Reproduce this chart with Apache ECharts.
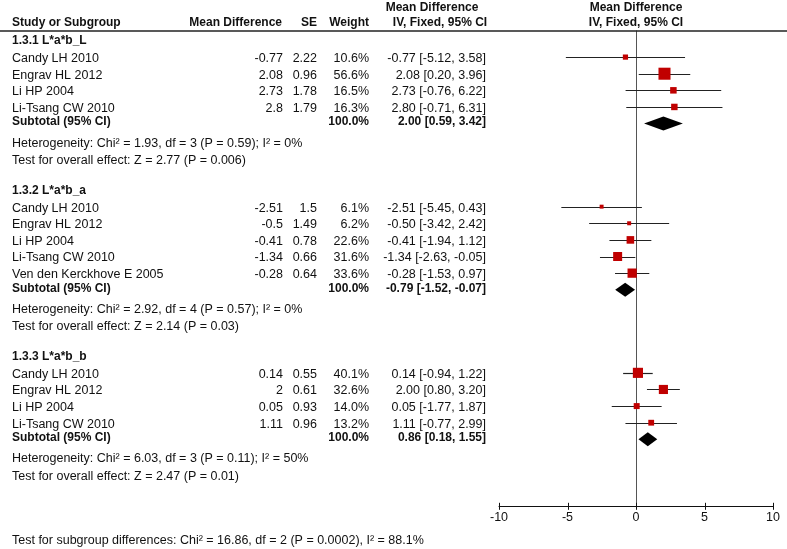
<!DOCTYPE html>
<html><head><meta charset="utf-8">
<script src="https://cdn.jsdelivr.net/npm/echarts/dist/echarts.min.js"></script>
<style>html,body{margin:0;padding:0;background:#fff}#c{width:787px;height:549px}</style>
</head><body><div id="c"></div><script>
// ---------------- data ----------------
const groupTitles = ['1.3.1 L*a*b_L', '1.3.2 L*a*b_a', '1.3.3 L*a*b_b'];
const studyNames = [
  ['Candy LH 2010', 'Engrav HL 2012', 'Li HP 2004', 'Li-Tsang CW 2010'],
  ['Candy LH 2010', 'Engrav HL 2012', 'Li HP 2004', 'Li-Tsang CW 2010', 'Ven den Kerckhove E 2005'],
  ['Candy LH 2010', 'Engrav HL 2012', 'Li HP 2004', 'Li-Tsang CW 2010']
];
const meanDiff = [[-0.77, 2.08, 2.73, 2.8], [-2.51, -0.5, -0.41, -1.34, -0.28], [0.14, 2, 0.05, 1.11]];
const stdErr = [[2.22, 0.96, 1.78, 1.79], [1.5, 1.49, 0.78, 0.66, 0.64], [0.55, 0.61, 0.93, 0.96]];
const weightPct = [[10.6, 56.6, 16.5, 16.3], [6.1, 6.2, 22.6, 31.6, 33.6], [40.1, 32.6, 14.0, 13.2]];
const ciLow = [[-5.12, 0.20, -0.76, -0.71], [-5.45, -3.42, -1.94, -2.63, -1.53], [-0.94, 0.80, -1.77, -0.77]];
const ciHigh = [[3.58, 3.96, 6.22, 6.31], [0.43, 2.42, 1.12, -0.05, 0.97], [1.22, 3.20, 1.87, 2.99]];
const subtotalEst = [2.00, -0.79, 0.86];
const subtotalLow = [0.59, -1.52, 0.18];
const subtotalHigh = [3.42, -0.07, 1.55];
const subtotalWeight = [100.0, 100.0, 100.0];
const heterogeneity = [
  'Heterogeneity: Chi² = 1.93, df = 3 (P = 0.59); I² = 0%',
  'Heterogeneity: Chi² = 2.92, df = 4 (P = 0.57); I² = 0%',
  'Heterogeneity: Chi² = 6.03, df = 3 (P = 0.11); I² = 50%'
];
const overallEffect = [
  'Test for overall effect: Z = 2.77 (P = 0.006)',
  'Test for overall effect: Z = 2.14 (P = 0.03)',
  'Test for overall effect: Z = 2.47 (P = 0.01)'
];
const subgroupTest = 'Test for subgroup differences: Chi² = 16.86, df = 2 (P = 0.0002), I² = 88.1%';
const xTicks = [-10, -5, 0, 5, 10];

// ---------------- layout ----------------
const W = 787, H = 549;
const Y_MIN = -0.6, Y_MAX = 28;
const GRID_TOP = 30.5, GRID_BOTTOM = 43.2;
const FONT = "'Liberation Sans', Arial, sans-serif";
const FS = 12.5, FSB = 12;
const COL = { name: 12, md: 283, se: 317, wt: 369, ci: 486 };

const rows = [];
let r = 0;
groupTitles.forEach((t, g) => {
  rows.push({ kind: 'title', g, r: r++ });
  studyNames[g].forEach((n, i) => rows.push({ kind: 'study', g, i, r: r++ }));
  rows.push({ kind: 'subtotal', g, r: r++ });
  rows.push({ kind: 'het', g, r: r++ });
  rows.push({ kind: 'test', g, r: r++ });
  r++;
});

const texts = []; // [x, row, text, align, bold, dy]
function T(x, row, s, align, bold, dy) { texts.push([x, row, s, align || 'left', !!bold, dy || 0]); }
T(12, -1.07, 'Study or Subgroup', 'left', true);
T(COL.md - 1, -1.07, 'Mean Difference', 'right', true);
T(COL.se, -1.07, 'SE', 'right', true);
T(COL.wt, -1.07, 'Weight', 'right', true);
T(432, -2.0, 'Mean Difference', 'center', true);
T(440, -1.07, 'IV, Fixed, 95% CI', 'center', true);
T(636, -2.0, 'Mean Difference', 'center', true);
T(636, -1.07, 'IV, Fixed, 95% CI', 'center', true);
const f2 = v => v.toFixed(2);
rows.forEach(o => {
  const g = o.g;
  if (o.kind === 'title') T(COL.name, o.r, groupTitles[g], 'left', true, 0.5);
  else if (o.kind === 'study') {
    const i = o.i;
    T(COL.name, o.r, studyNames[g][i], 'left', false, 1.5);
    T(COL.md, o.r, String(meanDiff[g][i]), 'right', false, 1.5);
    T(COL.se, o.r, String(stdErr[g][i]), 'right', false, 1.5);
    T(COL.wt, o.r, weightPct[g][i].toFixed(1) + '%', 'right', false, 1.5);
    T(COL.ci, o.r, f2(meanDiff[g][i]) + ' [' + f2(ciLow[g][i]) + ', ' + f2(ciHigh[g][i]) + ']', 'right', false, 1.5);
  } else if (o.kind === 'subtotal') {
    T(COL.name, o.r, 'Subtotal (95% CI)', 'left', true, -1.5);
    T(COL.wt, o.r, subtotalWeight[g].toFixed(1) + '%', 'right', true, -1.5);
    T(COL.ci, o.r, f2(subtotalEst[g]) + ' [' + f2(subtotalLow[g]) + ', ' + f2(subtotalHigh[g]) + ']', 'right', true, -1.5);
  } else if (o.kind === 'het') T(COL.name, o.r, heterogeneity[g], 'left', false, 3);
  else if (o.kind === 'test') T(COL.name, o.r, overallEffect[g], 'left', false, 4);
});
T(COL.name, 30.1, subgroupTest, 'left', false);

const studyPts = [], ciPts = [], diamondPts = [];
rows.forEach(o => {
  if (o.kind === 'study') {
    studyPts.push([meanDiff[o.g][o.i], o.r, weightPct[o.g][o.i]]);
    ciPts.push([ciLow[o.g][o.i], ciHigh[o.g][o.i], o.r]);
  } else if (o.kind === 'subtotal') {
    diamondPts.push([subtotalEst[o.g], subtotalLow[o.g], subtotalHigh[o.g], o.r]);
  }
});

const chart = echarts.init(document.getElementById('c'), null, { renderer: 'canvas' });
chart.setOption({
  animation: false,
  backgroundColor: '#fff',
  grid: [
    { left: 499, right: W - 773, top: GRID_TOP, bottom: GRID_BOTTOM },
    { left: 0, right: 0, top: GRID_TOP, bottom: GRID_BOTTOM }
  ],
  xAxis: [
    { gridIndex: 0, type: 'value', min: -10, max: 10, interval: 5, position: 'bottom',
      axisLine: { show: true, onZero: false, lineStyle: { color: '#111', width: 1 } },
      axisTick: { show: false },
      axisLabel: { show: true, color: '#111', fontSize: 12.5, fontFamily: FONT, margin: 5,
        formatter: v => xTicks.includes(v) ? String(v) : '' },
      splitLine: { show: false } },
    { gridIndex: 1, type: 'value', min: 0, max: W, show: false }
  ],
  yAxis: [
    { gridIndex: 0, type: 'value', min: Y_MIN, max: Y_MAX, inverse: true, show: false },
    { gridIndex: 1, type: 'value', min: Y_MIN, max: Y_MAX, inverse: true, show: false }
  ],
  graphic: [
    { type: 'line', shape: { x1: 0, y1: 31, x2: W, y2: 31 }, style: { stroke: '#222', lineWidth: 1.5 }, z: 10 }
  ],
  series: [
    { type: 'custom', xAxisIndex: 0, yAxisIndex: 0, data: [[0]], z: 2, clip: false,
      renderItem: (p, api) => {
        const a = api.coord([api.value(0), Y_MIN]), b = api.coord([api.value(0), Y_MAX]);
        return { type: 'line', shape: { x1: Math.round(a[0]) + 0.5, y1: a[1], x2: Math.round(b[0]) + 0.5, y2: b[1] },
          style: { stroke: '#555', lineWidth: 1 } };
      } },
    { type: 'custom', xAxisIndex: 0, yAxisIndex: 0, data: xTicks.map(v => [v]), z: 3, clip: false,
      renderItem: (p, api) => {
        const c = api.coord([api.value(0), Y_MAX]);
        const x = Math.round(c[0]) + 0.5;
        return { type: 'line', shape: { x1: x, y1: c[1] - 3, x2: x, y2: c[1] + 4 }, style: { stroke: '#111', lineWidth: 1 } };
      } },
    { type: 'custom', xAxisIndex: 0, yAxisIndex: 0, data: ciPts, z: 3,
      renderItem: (p, api) => {
        const a = api.coord([api.value(0), api.value(2)]), b = api.coord([api.value(1), api.value(2)]);
        const y = Math.round(a[1]) + 0.5;
        return { type: 'line', shape: { x1: a[0], y1: y, x2: b[0], y2: y }, style: { stroke: '#222', lineWidth: 1.2 } };
      } },
    { type: 'custom', xAxisIndex: 0, yAxisIndex: 0, data: studyPts, z: 4,
      renderItem: (p, api) => {
        const c = api.coord([api.value(0), api.value(1)]);
        const s = Math.max(3.5, 1.6 * Math.sqrt(api.value(2)));
        return { type: 'rect', shape: { x: c[0] - s / 2, y: c[1] - s / 2, width: s, height: s }, style: { fill: '#C00000' } };
      } },
    { type: 'custom', xAxisIndex: 0, yAxisIndex: 0, data: diamondPts, z: 4,
      renderItem: (p, api) => {
        const row = api.value(3);
        const e = api.coord([api.value(0), row]), lo = api.coord([api.value(1), row]), hi = api.coord([api.value(2), row]);
        const h = 7;
        return { type: 'polygon', shape: { points: [[lo[0], e[1]], [e[0], e[1] - h], [hi[0], e[1]], [e[0], e[1] + h]] },
          style: { fill: '#000' } };
      } },
    { type: 'custom', xAxisIndex: 1, yAxisIndex: 1, data: texts.map(t => [t[0], t[1]]), z: 5, clip: false,
      renderItem: (p, api) => {
        const t = texts[p.dataIndex];
        const c = api.coord([t[0], t[1]]);
        return { type: 'text', x: c[0], y: c[1] + t[5],
          style: { text: t[2], textAlign: t[3], textVerticalAlign: 'middle', fill: '#111',
            font: (t[4] ? 'bold ' + FSB : FS) + 'px ' + FONT } };
      } }
  ]
});
</script></body></html>
